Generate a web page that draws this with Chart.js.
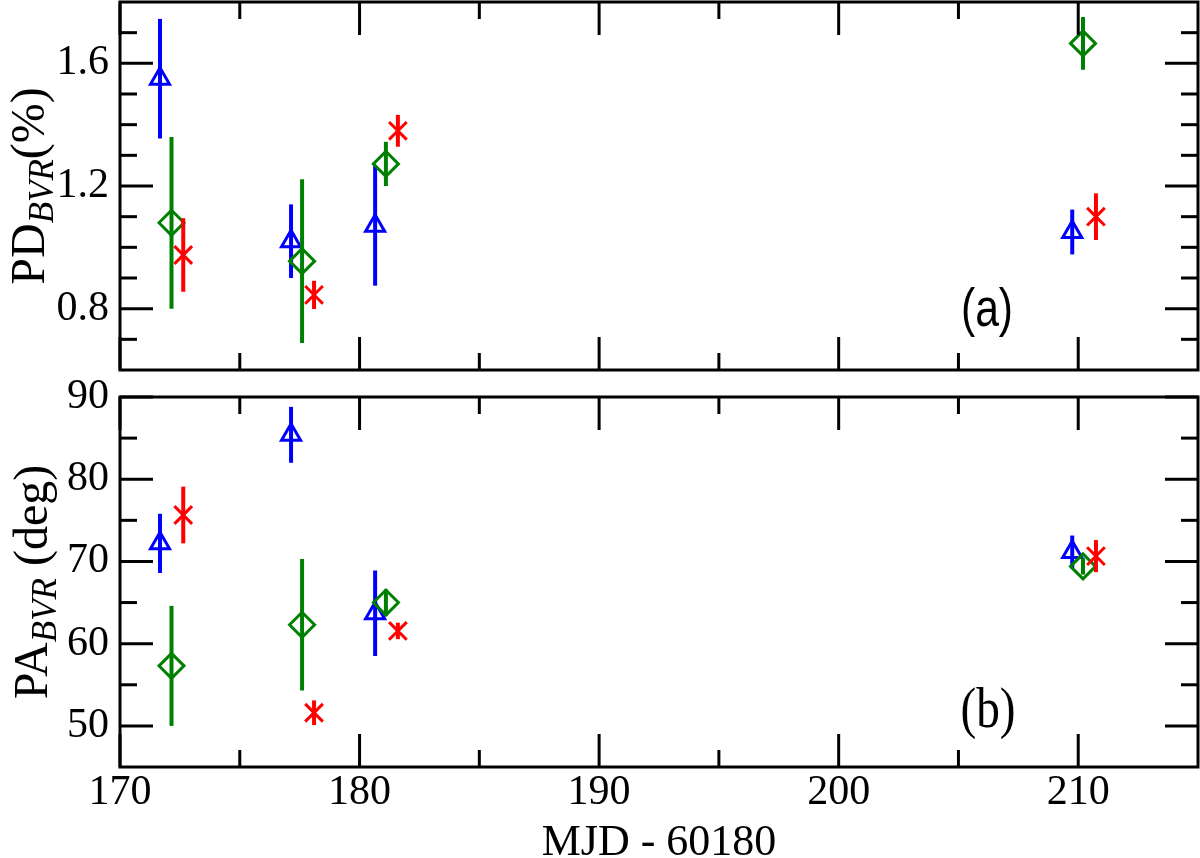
<!DOCTYPE html>
<html>
<head>
<meta charset="utf-8">
<script src="https://cdn.jsdelivr.net/npm/chart.js@4.4.1/dist/chart.umd.min.js"></script>
<style>
body { margin: 0; background: #fff; width: 1200px; height: 858px; overflow: hidden; position: relative; }
canvas { position: absolute; left: 0; }
#top { top: 0; }
#bot { top: 375px; }
</style>
</head>
<body>
<canvas id="top" width="1200" height="375"></canvas>
<canvas id="bot" width="1200" height="483"></canvas>
<script>
// MJD - 60180 for each band
var mjdB = [171.67, 177.14, 180.65, 209.75];
var mjdV = [172.15, 177.60, 181.10, 210.20];
var mjdR = [172.64, 178.10, 181.60, 210.74];

// polarization degree (%) and errors
var pdB = [1.55, 1.02, 1.07, 1.05];
var pdBErr = [0.195, 0.12, 0.195, 0.073];
var pdV = [1.08, 0.955, 1.272, 1.665];
var pdVErr = [0.28, 0.267, 0.072, 0.086];
var pdR = [0.975, 0.845, 1.38, 1.10];
var pdRErr = [0.12, 0.046, 0.052, 0.076];

// polarization angle (deg) and errors
var paB = [72.2, 85.4, 63.7, 71.15];
var paBErr = [3.6, 3.4, 5.2, 2.0];
var paV = [57.3, 62.3, 65.0, 69.4];
var paVErr = [7.3, 8.0, 1.6, 1.0];
var paR = [75.65, 51.6, 61.55, 70.65];
var paRErr = [3.45, 1.5, 1.0, 1.95];

// ticks
var xTicks = [170, 180, 190, 200, 210];
var xMinor = [175, 185, 195, 205];
var pdTicks = [0.8, 1.2, 1.6];
var pdMinor = [0.7, 0.9, 1.0, 1.1, 1.3, 1.4, 1.5, 1.7];
var paTicks = [50, 60, 70, 80, 90];
var paMinor = [55, 65, 75, 85];

Chart.defaults.color = '#000';
Chart.defaults.font.family = '"Liberation Serif", serif';

function pts(xs, ys) {
    return xs.map(function (x, i) { return {x: x, y: ys[i]}; });
}

function makeSets(yB, eB, yV, eV, yR, eR) {
    return [
        {label: 'B', data: pts(mjdB, yB), err: eB, borderColor: '#0000ff', backgroundColor: 'rgba(0,0,0,0)',
         pointStyle: 'triangle', pointRadius: 11, pointBorderWidth: 3, order: 2},
        {label: 'V', data: pts(mjdV, yV), err: eV, borderColor: '#008000', backgroundColor: 'rgba(0,0,0,0)',
         pointStyle: 'rectRot', pointRadius: 12.5, pointBorderWidth: 3, order: 1},
        {label: 'R', data: pts(mjdR, yR), err: eR, borderColor: '#ff0000', backgroundColor: 'rgba(0,0,0,0)',
         pointStyle: 'crossRot', pointRadius: 12.5, pointBorderWidth: 3, order: 0}
    ];
}

var errorBars = {
    id: 'errorBars',
    beforeDatasetDraw: function (chart, args) {
        var ds = chart.data.datasets[args.index];
        var xs = chart.scales.x, ys = chart.scales.y, ctx = chart.ctx;
        ctx.save();
        ctx.strokeStyle = ds.borderColor;
        ctx.lineWidth = 4;
        ds.data.forEach(function (p, i) {
            var px = xs.getPixelForValue(p.x);
            ctx.beginPath();
            ctx.moveTo(px, ys.getPixelForValue(p.y - ds.err[i]));
            ctx.lineTo(px, ys.getPixelForValue(p.y + ds.err[i]));
            ctx.stroke();
        });
        ctx.restore();
    }
};

// rotated y title with italic subscript
function yTitle(ctx, bx, cy, parts) {
    ctx.save();
    ctx.translate(bx, cy);
    ctx.rotate(-Math.PI / 2);
    ctx.fillStyle = '#000';
    ctx.textBaseline = 'alphabetic';
    var total = 0;
    parts.forEach(function (p) { ctx.font = p.f; p.w = ctx.measureText(p.t).width; total += p.w; });
    var x = -total / 2;
    parts.forEach(function (p) { ctx.font = p.f; ctx.fillText(p.t, x, p.dy); x += p.w; });
    ctx.restore();
}

function panelLabel(ctx, x, y, text, font, sx) {
    ctx.save();
    ctx.translate(x, y);
    ctx.scale(sx, 1);
    ctx.font = font;
    ctx.fillStyle = '#000';
    ctx.textAlign = 'center';
    ctx.textBaseline = 'alphabetic';
    ctx.fillText(text, 0, 0);
    ctx.restore();
}

function framePlugin(yMajor, yMinor, extra) {
    return {
        id: 'frame',
        afterDraw: function (chart) {
            var a = chart.chartArea, ctx = chart.ctx, xs = chart.scales.x, ys = chart.scales.y;
            ctx.save();
            ctx.strokeStyle = '#000';
            ctx.lineWidth = 3;
            function seg(x1, y1, x2, y2) { ctx.beginPath(); ctx.moveTo(x1, y1); ctx.lineTo(x2, y2); ctx.stroke(); }
            function tx(v, len) { var p = xs.getPixelForValue(v); seg(p, a.top, p, a.top + len); seg(p, a.bottom, p, a.bottom - len); }
            function ty(v, len) { var p = ys.getPixelForValue(v); seg(a.left, p, a.left + len, p); seg(a.right, p, a.right - len, p); }
            xTicks.forEach(function (v) { tx(v, 33); });
            xMinor.forEach(function (v) { tx(v, 17); });
            yMajor.forEach(function (v) { ty(v, 33); });
            yMinor.forEach(function (v) { ty(v, 17); });
            ctx.strokeRect(a.left, a.top, a.right - a.left, a.bottom - a.top);
            ctx.restore();
            extra(chart);
        }
    };
}

function fixTicks(list) {
    return function (scale) { scale.ticks = list.map(function (v) { return {value: v}; }); };
}

function fitY(s) { s.width = 120; s.paddingTop = 0; s.paddingBottom = 0; }
function fitX(s) { s.height = 91; s.paddingLeft = 0; s.paddingRight = 0; }

var yTickFont = {size: 42, family: '"Liberation Serif", serif'};

var chartTop = new Chart(document.getElementById('top'), {
    type: 'scatter',
    data: {datasets: makeSets(pdB, pdBErr, pdV, pdVErr, pdR, pdRErr)},
    options: {
        responsive: false,
        animation: false,
        layout: {autoPadding: false, padding: {top: 2, right: 2, bottom: 5, left: 0}},
        plugins: {legend: {display: false}, tooltip: {enabled: false}},
        scales: {
            x: {type: 'linear', min: 170, max: 215, display: false},
            y: {
                min: 0.6, max: 1.8,
                afterBuildTicks: fixTicks(pdTicks),
                afterFit: fitY,
                grid: {display: false, drawTicks: false},
                border: {display: false},
                ticks: {font: yTickFont, padding: 11, callback: function (v) { return v.toFixed(1); }}
            }
        }
    },
    plugins: [errorBars, framePlugin(pdTicks, pdMinor, function (chart) {
        var a = chart.chartArea, ctx = chart.ctx;
        yTitle(ctx, 44, (a.top + a.bottom) / 2, [
            {t: 'PD', f: '48px "Liberation Serif"', dy: 0},
            {t: 'BVR', f: 'italic 35px "Liberation Serif"', dy: 9},
            {t: '(%)', f: '48px "Liberation Serif"', dy: 0}
        ]);
        panelLabel(ctx, 987, 326, '(a)', '54px "Liberation Sans"', 0.79);
    })]
});

var chartBot = new Chart(document.getElementById('bot'), {
    type: 'scatter',
    data: {datasets: makeSets(paB, paBErr, paV, paVErr, paR, paRErr)},
    options: {
        responsive: false,
        animation: false,
        layout: {autoPadding: false, padding: {top: 22, right: 2, bottom: 0, left: 0}},
        plugins: {legend: {display: false}, tooltip: {enabled: false}},
        scales: {
            x: {
                type: 'linear', min: 170, max: 215,
                afterBuildTicks: fixTicks(xTicks),
                afterFit: fitX,
                grid: {display: false, drawTicks: false},
                border: {display: false},
                ticks: {font: yTickFont, padding: 1, maxRotation: 0},
                title: {display: true, text: 'MJD - 60180', padding: 0,
                        font: {size: 44, family: '"Liberation Serif", serif', lineHeight: 0.68}}
            },
            y: {
                min: 45, max: 90,
                afterBuildTicks: fixTicks(paTicks),
                afterFit: fitY,
                grid: {display: false, drawTicks: false},
                border: {display: false},
                ticks: {font: yTickFont, padding: 11}
            }
        }
    },
    plugins: [errorBars, framePlugin(paTicks, paMinor, function (chart) {
        var a = chart.chartArea, ctx = chart.ctx;
        yTitle(ctx, 47, (a.top + a.bottom) / 2, [
            {t: 'PA', f: '48px "Liberation Serif"', dy: 0},
            {t: 'BVR', f: 'italic 35px "Liberation Serif"', dy: 9},
            {t: ' (deg)', f: '48px "Liberation Serif"', dy: 0}
        ]);
        panelLabel(ctx, 988, 352, '(b)', '57px "Liberation Serif"', 0.83);
    })]
});
</script>
</body>
</html>
